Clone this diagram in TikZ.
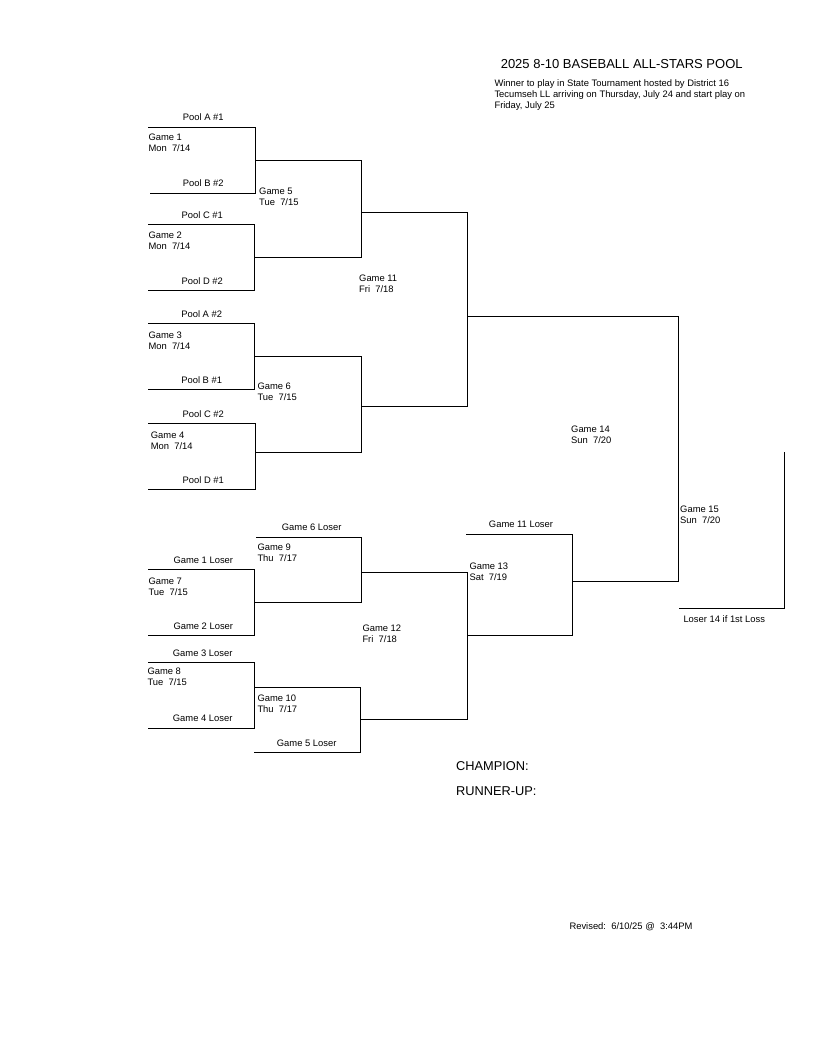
\documentclass[tikz,border=0pt]{standalone}
\usepackage{fontspec}
\setmainfont{Liberation Sans}
\begin{document}
\begin{tikzpicture}[x=1pt,y=-1pt,
  bracket/.style={line width=0.9pt, line join=miter},
  lbl/.style={font=\fontsize{9.4}{11}\selectfont, inner sep=0pt},
  two/.style={lbl, align=left, anchor=north west},
  one/.style={lbl, anchor=base},
  onel/.style={lbl, anchor=base west}]
\useasboundingbox[fill=white] (0,0) rectangle (816,1056);

% ---------- title ----------
\node[inner sep=0pt, font=\fontsize{13}{15}\selectfont] (title) at (621.7,64) {2025 8-10 BASEBALL ALL-STARS POOL};
\node[two] (sub) at (494.3,79.9) {Winner to play in State Tournament hosted by District 16\\Tecumseh LL arriving on Thursday, July 24 and start play on\\Friday, July 25};

% ---------- winners bracket ----------
\draw[bracket] (148,127.3) -- (255.7,127.3) -- (255.7,193.3) -- (150,193.3);   % game 1
\draw[bracket] (148,224.3) -- (254.3,224.3) -- (254.3,290.3) -- (148,290.3);   % game 2
\draw[bracket] (255.7,160.3) -- (361.7,160.3) -- (361.7,257) -- (254.3,257);   % game 5
\draw[bracket] (148,323.3) -- (254.7,323.3) -- (254.7,389.3) -- (148,389.3);   % game 3
\draw[bracket] (148,423.7) -- (255.7,423.7) -- (255.7,489.3) -- (148,489.3);   % game 4
\draw[bracket] (254.7,356.7) -- (361.7,356.7) -- (361.7,452.3) -- (255.7,452.3); % game 6
\draw[bracket] (361.7,212.3) -- (467.7,212.3) -- (467.7,406.3) -- (361.7,406.3); % game 11
\draw[bracket] (467.7,316) -- (678.3,316) -- (678.3,581) -- (572.7,581);       % game 14/15
\draw[bracket] (679,608.3) -- (784.3,608.3) -- (784.3,452.3);                   % final

% ---------- losers bracket ----------
\draw[bracket] (256,537.3) -- (361.7,537.3) -- (361.7,602.3) -- (254.7,602.3); % game 9
\draw[bracket] (148,569.3) -- (254.7,569.3) -- (254.7,635.3) -- (148,635.3);   % game 7
\draw[bracket] (148,662.3) -- (254.7,662.3) -- (254.7,728.3) -- (148,728.3);   % game 8
\draw[bracket] (254,687.3) -- (360.7,687.3) -- (360.7,752.3) -- (254,752.3);   % game 10
\draw[bracket] (361.7,572.3) -- (467.7,572.3) -- (467.7,719.3) -- (360.7,719.3); % game 12
\draw[bracket] (466,534.3) -- (572.7,534.3) -- (572.7,635) -- (467.7,635);     % game 13

% ---------- seed labels ----------
\node[one] (pa1) at (203.3,120.7) {Pool A \#1};
\node[one] (pb2) at (203.3,186.7) {Pool B \#2};
\node[one] (pc1) at (202.3,218.4) {Pool C \#1};
\node[one] (pd2) at (202.3,284.4) {Pool D \#2};
\node[one] (pa2) at (201.7,317.4) {Pool A \#2};
\node[one] (pb1) at (201.7,383.4) {Pool B \#1};
\node[one] (pc2) at (203.3,417.4) {Pool C \#2};
\node[one] (pd1) at (203.3,483.4) {Pool D \#1};

\node[one] (l6) at (311.7,530.7) {Game 6 Loser};
\node[one] (l1) at (203.3,563.1) {Game 1 Loser};
\node[one] (l2) at (203.3,629.1) {Game 2 Loser};
\node[one] (l3) at (202.7,656.1) {Game 3 Loser};
\node[one] (l4) at (202.7,721.1) {Game 4 Loser};
\node[one] (l5) at (306.7,746.1) {Game 5 Loser};
\node[one] (l11) at (521,527.1) {Game 11 Loser};
\node[onel] (l14) at (683.3,622.1) {Loser 14 if 1st Loss};

% ---------- game labels ----------
\node[two] (g1) at (148.3,133.9) {Game 1\\Mon~~7/14};
\node[two] (g2) at (148.3,231.6) {Game 2\\Mon~~7/14};
\node[two] (g5) at (259,187.3) {Game 5\\Tue~~7/15};
\node[two] (g11) at (359,274.9) {Game 11\\Fri~~7/18};
\node[two] (g3) at (148.3,331.6) {Game 3\\Mon~~7/14};
\node[two] (g6) at (257.3,382.6) {Game 6\\Tue~~7/15};
\node[two] (g4) at (150.7,431.6) {Game 4\\Mon~~7/14};
\node[two] (g14) at (571,425.3) {Game 14\\Sun~~7/20};
\node[two] (g15) at (680,505.3) {Game 15\\Sun~~7/20};
\node[two] (g13) at (469.3,562.3) {Game 13\\Sat~~7/19};
\node[two] (g9) at (257.3,543.9) {Game 9\\Thu~~7/17};
\node[two] (g7) at (148.3,577.3) {Game 7\\Tue~~7/15};
\node[two] (g12) at (362.3,624.3) {Game 12\\Fri~~7/18};
\node[two] (g8) at (147.3,667.3) {Game 8\\Tue~~7/15};
\node[two] (g10) at (257.3,694.3) {Game 10\\Thu~~7/17};

% ---------- footer ----------
\node[inner sep=0pt, anchor=base west, font=\fontsize{12.8}{15}\selectfont] (champ) at (456,770.6) {CHAMPION:};
\node[inner sep=0pt, anchor=base west, font=\fontsize{12.8}{15}\selectfont] (runner) at (456,795.3) {RUNNER-UP:};
\node[onel] (rev) at (569.3,929.4) {Revised:~~6/10/25 @~~3:44PM};
\end{tikzpicture}
\end{document}
